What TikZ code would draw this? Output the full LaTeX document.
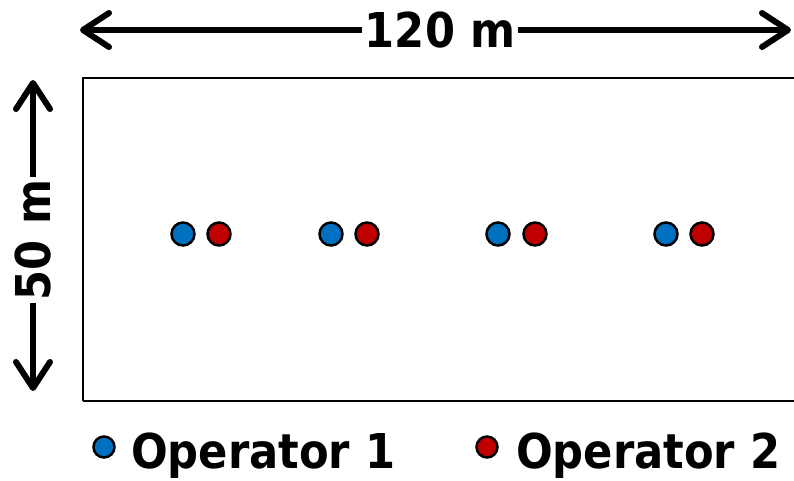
\documentclass[tikz,border=0pt]{standalone}
\usepackage{fontspec}
\setmainfont{DejaVu Sans Condensed}[BoldFont={DejaVu Sans Condensed Bold}]
\usetikzlibrary{arrows.meta}
\definecolor{opblue}{HTML}{0070C0}
\definecolor{opred}{HTML}{C00000}
\begin{document}
\begin{tikzpicture}[x=1pt,y=-1pt,
  dim/.style={line width=6pt,{Straight Barb[length=26pt,width=34pt,line cap=round,line join=round]}-{Straight Barb[length=26pt,width=34pt,line cap=round,line join=round]}},
  lbl/.style={fill=white,inner sep=3pt,font=\fontsize{48}{52}\selectfont\bfseries},
  bdot/.style={circle,draw=black,line width=2.5pt,fill=opblue,minimum size=23pt,inner sep=0pt},
  rdot/.style={circle,draw=black,line width=2.5pt,fill=opred,minimum size=23pt,inner sep=0pt},
  leg/.style={anchor=base west,inner sep=0pt,font=\fontsize{48}{52}\selectfont\bfseries}]
\useasboundingbox (0,0) rectangle (794,480);
\fill[white] (0,0) rectangle (794,480);
\draw[line width=2.5pt] (83,401) -- (83,78) -- (800,78);
\draw[line width=2.5pt] (83,401) -- (800,401);
% dimension arrows
\coordinate (tl) at (80,30);
\coordinate (tr) at (791,30);
\draw[dim] (tl) -- (tr);
\node[lbl] (w) at (440,30) {120 m};
\coordinate (lt) at (33,80);
\coordinate (lb) at (33,391);
\draw[dim] (lt) -- (lb);
\node[lbl,rotate=90] (h) at (33,240) {50 m};
% operators
\foreach \i/\bx/\rx in {1/183/219,2/331/367,3/498/535,4/666/702}{
  \node[bdot] (b\i) at (\bx,234) {};
  \node[rdot] (r\i) at (\rx,234) {};
}
% legend
\node[bdot,minimum size=21pt] (lg1) at (104,447) {};
\node[leg] (t1) at (131,468) {Operator 1};
\node[rdot,minimum size=21pt] (lg2) at (487,447) {};
\node[leg] (t2) at (516,468) {Operator 2};
\end{tikzpicture}
\end{document}
